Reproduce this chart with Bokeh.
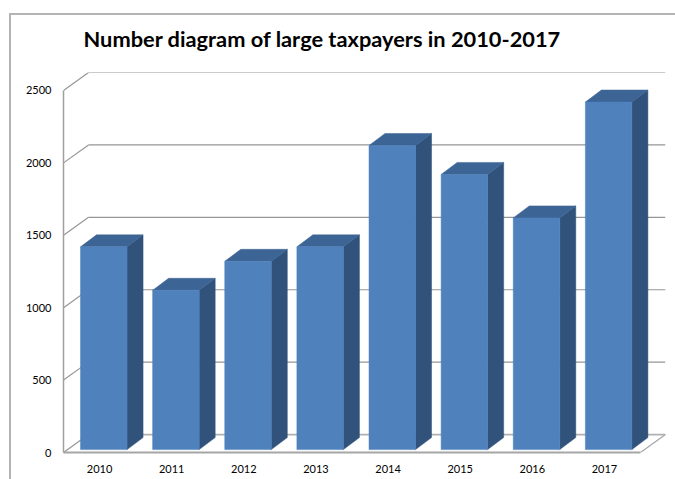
from bokeh.plotting import figure
from bokeh.models import FixedTicker, Range1d, Title
from bokeh.embed import file_html
from bokeh.resources import INLINE

years = ["2010", "2011", "2012", "2013", "2014", "2015", "2016", "2017"]
taxpayers = [1400, 1100, 1300, 1400, 2100, 1900, 1600, 2400]
y_ticks = [0, 500, 1000, 1500, 2000, 2500]

FRONT = "#4f81bd"
TOP = "#3c6494"
SIDE = "#31527b"
GRID = "#969696"
BORDER = "#b4b4b4"

# Oblique projection of the chart box, in data units
WALL_DX, WALL_DY = 0.347, 124
BAR_INSET_X, BAR_WIDTH = 0.236, 0.645
BAR_LIFT = 20
BAR_DX, BAR_DY = 0.222, 83

p = figure(width=675, height=479, output_backend="svg", toolbar_location=None,
           x_range=Range1d(0, 8 + WALL_DX), y_range=Range1d(0, 2500 + WALL_DY),
           min_border_left=63, min_border_right=10, min_border_top=72, min_border_bottom=27)
p.outline_line_color = None
p.background_fill_color = None
p.border_fill_color = None
p.xgrid.visible = False
p.ygrid.visible = False

# Outer chart-area border, open on the right, painted behind the transparent figure
p.styles = {
    "background-color": "white",
    "background-image": f"linear-gradient({BORDER},{BORDER}), linear-gradient({BORDER},{BORDER})",
    "background-repeat": "no-repeat",
    "background-position": "9px 13px, 9px 13px",
    "background-size": "2px 466px, 666px 2px",
}

title = Title(text="Number diagram of large taxpayers in 2010-2017", align="left", offset=20, standoff=41,
              text_font="Lato", text_font_size="21.8px", text_font_style="bold", text_color="#000000")
p.add_layout(title, "above")

# Wall gridlines: a diagonal on the side wall, then a run along the back wall
side_x0 = [0 for _ in y_ticks]
side_x1 = [WALL_DX for _ in y_ticks]
back_x1 = [8 + WALL_DX for _ in y_ticks]
back_y = [t + WALL_DY for t in y_ticks]
p.segment(side_x0, y_ticks, side_x1, back_y, line_color=GRID, line_width=1.2)
p.segment(side_x1, back_y, back_x1, back_y, line_color=GRID, line_width=1.2)

# Floor's right-hand edge
p.segment([8], [0], [8 + WALL_DX], [WALL_DY], line_color="#a6a6a6", line_width=1.2)
p.segment([WALL_DX], [WALL_DY], [8 + WALL_DX], [WALL_DY], line_color="#b0b0b0", line_width=1.5)

# Bars: side, top and front faces
for i, v in enumerate(taxpayers):
    x0 = i + BAR_INSET_X
    x1 = x0 + BAR_WIDTH
    y0 = BAR_LIFT
    y1 = v + BAR_LIFT
    p.patch([x1, x1 + BAR_DX, x1 + BAR_DX, x1], [y0, y0 + BAR_DY, y1 + BAR_DY, y1],
            fill_color=SIDE, line_color=SIDE, line_width=0.5)
    p.patch([x0, x0 + BAR_DX, x1 + BAR_DX, x1], [y1, y1 + BAR_DY, y1 + BAR_DY, y1],
            fill_color=TOP, line_color=TOP, line_width=0.5)
    p.patch([x0, x1, x1, x0], [y0, y0, y1, y1],
            fill_color=FRONT, line_color=FRONT, line_width=0.5)

yaxis = p.yaxis[0]
yaxis.ticker = FixedTicker(ticks=y_ticks)
yaxis.bounds = (0, 2500)
yaxis.axis_line_color = "#a0a0a0"
yaxis.axis_line_width = 1.5
yaxis.major_tick_line_color = None
yaxis.minor_tick_line_color = None
yaxis.major_tick_in = 0
yaxis.major_tick_out = 0
yaxis.minor_tick_in = 0
yaxis.minor_tick_out = 0
yaxis.major_label_standoff = 12
yaxis.major_label_text_font = "Lato"
yaxis.major_label_text_font_size = "11px"
yaxis.major_label_text_color = "#000000"

xaxis = p.xaxis[0]
xaxis.ticker = FixedTicker(ticks=[i + 0.5 for i in range(len(years))])
xaxis.major_label_overrides = {i + 0.5: y for i, y in enumerate(years)}
xaxis.bounds = (0, 8)
xaxis.axis_line_color = "#a6a6a6"
xaxis.axis_line_width = 2
xaxis.major_tick_line_color = None
xaxis.minor_tick_line_color = None
xaxis.major_tick_in = 0
xaxis.major_tick_out = 0
xaxis.minor_tick_in = 0
xaxis.minor_tick_out = 0
xaxis.major_label_standoff = 12
xaxis.major_label_text_font = "Lato"
xaxis.major_label_text_font_size = "11px"
xaxis.major_label_text_color = "#000000"

open("out.html", "w").write(file_html(p, INLINE))
